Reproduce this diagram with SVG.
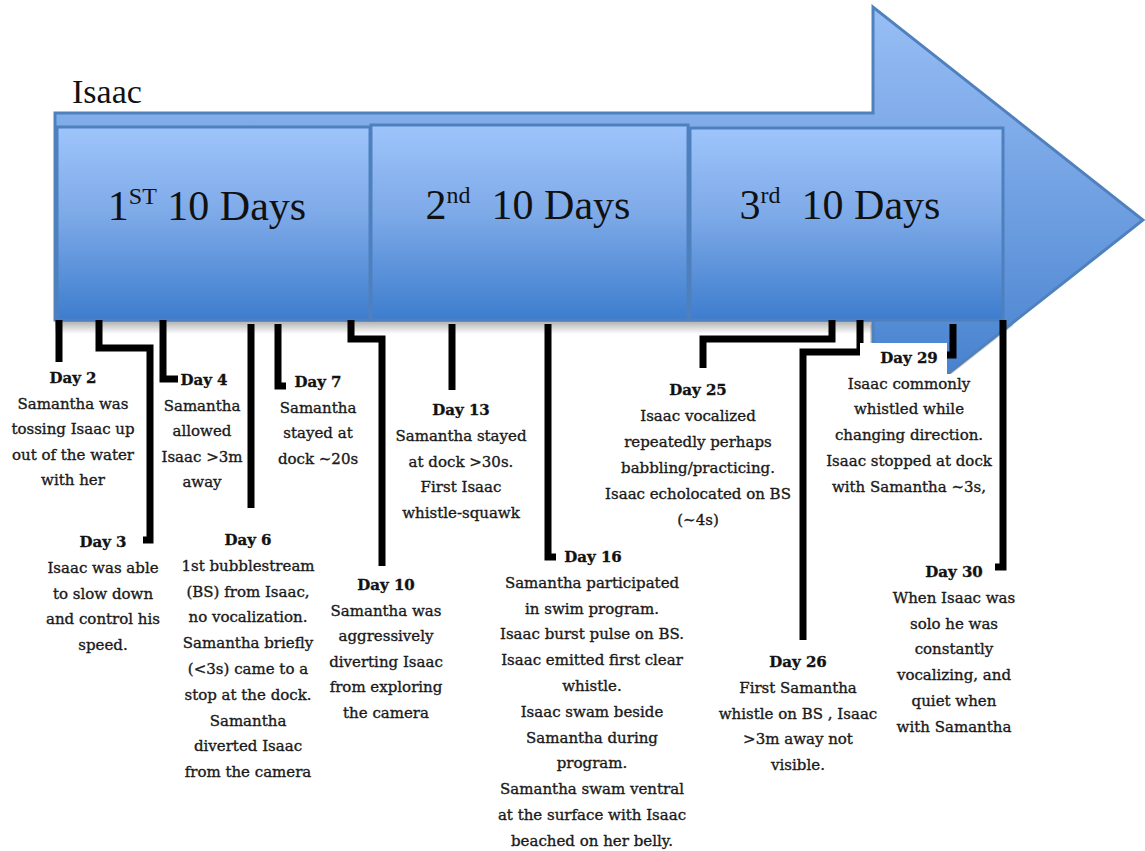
<svg xmlns="http://www.w3.org/2000/svg" width="1145" height="851" viewBox="0 0 1145 851">
<defs>
<linearGradient id="gArrow" gradientUnits="userSpaceOnUse" x1="0" y1="7" x2="0" y2="433">
<stop offset="0" stop-color="#98BEF5"/>
<stop offset="0.5" stop-color="#6C9DE0"/>
<stop offset="1" stop-color="#3A78C9"/>
</linearGradient>
<linearGradient id="gPanel" x1="0" y1="0" x2="0" y2="1">
<stop offset="0" stop-color="#9EC4FB"/>
<stop offset="0.45" stop-color="#7EAAE8"/>
<stop offset="1" stop-color="#3D7DCE"/>
</linearGradient>
<linearGradient id="gShadow" x1="0" y1="0" x2="0" y2="1">
<stop offset="0" stop-color="#707070" stop-opacity="0.6"/>
<stop offset="1" stop-color="#707070" stop-opacity="0"/>
</linearGradient>
<style>
.panel{fill:url(#gPanel);stroke:#4F80BE;stroke-width:3}
.title{font-family:"Liberation Serif","DejaVu Serif",serif;font-size:42px;fill:#111;text-anchor:middle}
.sup{font-size:24px}
.lbl{font-family:"DejaVu Serif","Liberation Serif",serif;font-size:15px;fill:#1a1a1a;stroke:#1a1a1a;stroke-width:0.35;text-anchor:middle}
.day{font-weight:bold;fill:#111}
.conn{fill:none;stroke:#000;stroke-width:7;stroke-linejoin:miter;stroke-linecap:butt}
</style>
</defs>
<rect width="1145" height="851" fill="#fff"/>

<g id="timeline-arrow">
<path d="M873,320 L1017,320 L873,433 Z" fill="#8a8a8a" opacity="0.35" transform="translate(-3,5)"/>
<rect x="55" y="320" width="818" height="14" fill="url(#gShadow)"/>
<path d="M55,113 H873 V7 L1143,220 L873,433 V320 H55 Z" fill="url(#gArrow)" stroke="#4F81BD" stroke-width="3"/>
<text x="72" y="103" font-family="Liberation Serif, DejaVu Serif, serif" font-size="34" fill="#111">Isaac</text>
</g>

<g id="panel-1">
<rect class="panel" x="57" y="127" width="313" height="193"/>
<text class="title" x="207" y="220">1<tspan class="sup" dy="-16">ST</tspan><tspan dy="16"> 10 Days</tspan></text>
</g>
<g id="panel-2">
<rect class="panel" x="371" y="125" width="317" height="195"/>
<text class="title" x="528" y="219" xml:space="preserve">2<tspan class="sup" dy="-16">nd</tspan><tspan dy="16">  10 Days</tspan></text>
</g>
<g id="panel-3">
<rect class="panel" x="690" y="128" width="313" height="192"/>
<text class="title" x="840" y="219" xml:space="preserve">3<tspan class="sup" dy="-16">rd</tspan><tspan dy="16">  10 Days</tspan></text>
</g>

<g id="connectors">
<path class="conn" d="M59,320 V362"/>
<path class="conn" d="M99,320 V348 H150 V540 H143"/>
<path class="conn" d="M163,320 V379 H178"/>
<path class="conn" d="M251,324 V508"/>
<path class="conn" d="M278,324 V386 H286"/>
<path class="conn" d="M351,320 V339 H382 V566"/>
<path class="conn" d="M452,324 V390"/>
<path class="conn" d="M548,324 V557 H556"/>
<path class="conn" d="M832,320 V339 H703 V368"/>
<path class="conn" d="M860,320 V352 H803 V640"/>
<path class="conn" d="M953,324 V355 H943"/>
<path class="conn" d="M1003,320 V567 H995"/>
</g>

<g id="day2" class="lbl">
<text x="73" y="383"><tspan class="day">Day 2</tspan><tspan x="73" dy="25.5">Samantha was</tspan><tspan x="73" dy="25.5">tossing Isaac up</tspan><tspan x="73" dy="25.5">out of the water</tspan><tspan x="73" dy="25.5">with her</tspan></text>
</g>
<g id="day3" class="lbl">
<text x="103" y="547"><tspan class="day">Day 3</tspan><tspan x="103" dy="25.8">Isaac was able</tspan><tspan x="103" dy="25.8">to slow down</tspan><tspan x="103" dy="25.8">and control his</tspan><tspan x="103" dy="25.8">speed.</tspan></text>
</g>
<g id="day4" class="lbl">
<text x="202" y="385"><tspan class="day" x="204">Day 4</tspan><tspan x="202" dy="25.5">Samantha</tspan><tspan x="202" dy="25.5">allowed</tspan><tspan x="202" dy="25.5">Isaac &gt;3m</tspan><tspan x="202" dy="25.5">away</tspan></text>
</g>
<g id="day6" class="lbl">
<text x="248" y="545"><tspan class="day">Day 6</tspan><tspan x="248" dy="25.8">1st bubblestream</tspan><tspan x="248" dy="25.8">(BS) from Isaac,</tspan><tspan x="248" dy="25.8">no vocalization.</tspan><tspan x="248" dy="25.8">Samantha briefly</tspan><tspan x="248" dy="25.8">(&lt;3s) came to a</tspan><tspan x="248" dy="25.8">stop at the dock.</tspan><tspan x="248" dy="25.8">Samantha</tspan><tspan x="248" dy="25.8">diverted Isaac</tspan><tspan x="248" dy="25.8">from the camera</tspan></text>
</g>
<g id="day7" class="lbl">
<text x="318" y="387"><tspan class="day">Day 7</tspan><tspan x="318" dy="25.5">Samantha</tspan><tspan x="318" dy="25.5">stayed at</tspan><tspan x="318" dy="25.5">dock ~20s</tspan></text>
</g>
<g id="day10" class="lbl">
<text x="386" y="590"><tspan class="day">Day 10</tspan><tspan x="386" dy="25.6">Samantha was</tspan><tspan x="386" dy="25.6">aggressively</tspan><tspan x="386" dy="25.6">diverting Isaac</tspan><tspan x="386" dy="25.6">from exploring</tspan><tspan x="386" dy="25.6">the camera</tspan></text>
</g>
<g id="day13" class="lbl">
<text x="461" y="415"><tspan class="day">Day 13</tspan><tspan x="461" dy="25.8">Samantha stayed</tspan><tspan x="461" dy="25.8">at dock &gt;30s.</tspan><tspan x="461" dy="25.8">First Isaac</tspan><tspan x="461" dy="25.8">whistle-squawk</tspan></text>
</g>
<g id="day16" class="lbl">
<text x="592" y="562"><tspan class="day" x="593">Day 16</tspan><tspan x="592" dy="25.8">Samantha participated</tspan><tspan x="592" dy="25.8">in swim program.</tspan><tspan x="592" dy="25.8">Isaac burst pulse on BS.</tspan><tspan x="592" dy="25.8">Isaac emitted first clear</tspan><tspan x="592" dy="25.8">whistle.</tspan><tspan x="592" dy="25.8">Isaac swam beside</tspan><tspan x="592" dy="25.8">Samantha during</tspan><tspan x="592" dy="25.8">program.</tspan><tspan x="592" dy="25.8">Samantha swam ventral</tspan><tspan x="592" dy="25.8">at the surface with Isaac</tspan><tspan x="592" dy="25.8">beached on her belly.</tspan></text>
</g>
<g id="day25" class="lbl">
<text x="698" y="395"><tspan class="day">Day 25</tspan><tspan x="698" dy="26">Isaac vocalized</tspan><tspan x="698" dy="26">repeatedly perhaps</tspan><tspan x="698" dy="26">babbling/practicing.</tspan><tspan x="698" dy="26">Isaac echolocated on BS</tspan><tspan x="698" dy="26">(~4s)</tspan></text>
</g>
<g id="day26" class="lbl">
<text x="798" y="667"><tspan class="day">Day 26</tspan><tspan x="798" dy="25.8">First Samantha</tspan><tspan x="798" dy="25.8">whistle on BS , Isaac</tspan><tspan x="798" dy="25.8">&gt;3m away not</tspan><tspan x="798" dy="25.8">visible.</tspan></text>
</g>
<g id="day29">
<rect x="860" y="343" width="87" height="160" fill="#fff"/>
<rect x="825" y="374" width="170" height="130" fill="#fff"/>
<text class="lbl" x="909" y="363"><tspan class="day">Day 29</tspan><tspan x="909" dy="25.7">Isaac commonly</tspan><tspan x="909" dy="25.7">whistled while</tspan><tspan x="909" dy="25.7">changing direction.</tspan><tspan x="909" dy="25.7">Isaac stopped at dock</tspan><tspan x="909" dy="25.7">with Samantha ~3s,</tspan></text>
</g>
<g id="day30" class="lbl">
<text x="954" y="577"><tspan class="day">Day 30</tspan><tspan x="954" dy="25.8">When Isaac was</tspan><tspan x="954" dy="25.8">solo he was</tspan><tspan x="954" dy="25.8">constantly</tspan><tspan x="954" dy="25.8">vocalizing, and</tspan><tspan x="954" dy="25.8">quiet when</tspan><tspan x="954" dy="25.8">with Samantha</tspan></text>
</g>
</svg>
